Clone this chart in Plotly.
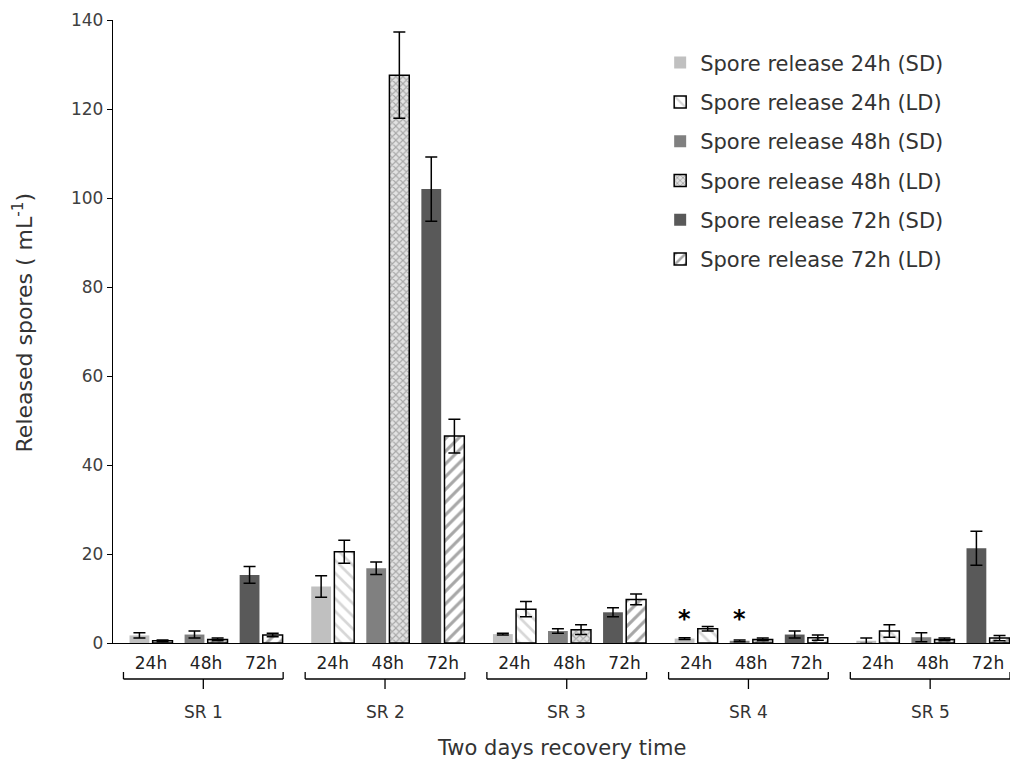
import plotly.graph_objects as go

groups = ["SR 1", "SR 2", "SR 3", "SR 4", "SR 5"]
times = ["24h", "48h", "72h"]

series_names = [
    "Spore release 24h (SD)", "Spore release 24h (LD)",
    "Spore release 48h (SD)", "Spore release 48h (LD)",
    "Spore release 72h (SD)", "Spore release 72h (LD)",
]
sd24 = [1.7, 12.7, 2.0, 1.0, 0.5]
sd24_err = [0.6, 2.4, 0.2, 0.2, 0.6]
ld24 = [0.5, 20.5, 7.6, 3.2, 2.7]
ld24_err = [0.2, 2.6, 1.7, 0.5, 1.4]
sd48 = [1.9, 16.8, 2.7, 0.5, 1.3]
sd48_err = [0.8, 1.4, 0.5, 0.2, 1.0]
ld48 = [0.8, 127.6, 3.0, 0.8, 0.8]
ld48_err = [0.3, 9.7, 1.1, 0.3, 0.3]
sd72 = [15.3, 102.0, 6.9, 1.9, 21.3]
sd72_err = [1.9, 7.2, 1.0, 0.8, 3.8]
ld72 = [1.8, 46.5, 9.8, 1.2, 1.1]
ld72_err = [0.4, 3.8, 1.2, 0.6, 0.6]

GROUP_STEP = 3.3
FONT = "DejaVu Sans"

def xpos(j):
    return [g * GROUP_STEP + j for g in range(len(groups))]

series = [
    (series_names[0], 0, "SD", sd24, sd24_err, dict(color="#c0c0c0")),
    (series_names[1], 0, "LD", ld24, ld24_err,
     dict(color="white", pattern=dict(shape="\\", fgcolor="#b0b0b0", bgcolor="white", size=9, solidity=0.3))),
    (series_names[2], 1, "SD", sd48, sd48_err, dict(color="#808080")),
    (series_names[3], 1, "LD", ld48, ld48_err,
     dict(color="#d0d0d0", pattern=dict(shape="x", fgcolor="#6e6e6e", bgcolor="#e2e2e2", size=5, solidity=0.4))),
    (series_names[4], 2, "SD", sd72, sd72_err, dict(color="#595959")),
    (series_names[5], 2, "LD", ld72, ld72_err,
     dict(color="white", pattern=dict(shape="/", fgcolor="#505050", bgcolor="white", size=9, solidity=0.35))),
]

fig = go.Figure()
for name, j, kind, vals, errs, marker in series:
    m = dict(marker)
    if kind == "LD":
        m["line"] = dict(color="black", width=1.5)
    else:
        m["line"] = dict(width=0)
    fig.add_trace(go.Bar(
        name=name, x=xpos(j), y=vals,
        width=0.36, offset=-0.39 if kind == "SD" else 0.03,
        marker=m, legendgroup=name,
        error_y=dict(type="data", array=errs, color="black", thickness=1.5, width=6),
    ))

tickvals = [g * GROUP_STEP + j for g in range(len(groups)) for j in range(len(times))]
ticktext = [t for g in groups for t in times]

shapes = []
annotations = []
y_top, y_bar, y_mid = -0.0465, -0.0578, -0.0738
for g, gname in enumerate(groups):
    x0 = g * GROUP_STEP - 0.5
    x1 = g * GROUP_STEP + 2.4
    xc = (x0 + x1) / 2
    line = dict(color="black", width=1.3)
    shapes.append(dict(type="line", xref="x", yref="paper", x0=x0, x1=x1, y0=y_bar, y1=y_bar, line=line))
    shapes.append(dict(type="line", xref="x", yref="paper", x0=x0, x1=x0, y0=y_top, y1=y_bar, line=line))
    shapes.append(dict(type="line", xref="x", yref="paper", x0=x1, x1=x1, y0=y_top, y1=y_bar, line=line))
    shapes.append(dict(type="line", xref="x", yref="paper", x0=xc, x1=xc, y0=y_bar, y1=y_mid, line=line))
    annotations.append(dict(text=gname, xref="x", yref="paper", x=xc, y=-0.111, showarrow=False,
                            yanchor="middle", font=dict(family=FONT, size=17, color="#333333")))

annotations.append(dict(text="Two days recovery time", xref="paper", yref="paper", x=0.5, y=-0.1685,
                        showarrow=False, yanchor="middle", font=dict(family=FONT, size=21, color="#333333")))
annotations.append(dict(text="Released spores ( mL<sup>-1</sup>)", xref="paper", yref="paper",
                        x=-0.1, y=0.515, textangle=-90, showarrow=False, xanchor="center", yanchor="middle",
                        font=dict(family=FONT, size=22, color="#333333")))
# significance markers on SR 4
for j in [0, 1]:
    annotations.append(dict(text="<b>*</b>", xref="x", yref="y", x=3 * GROUP_STEP + j - 0.21, y=5.5,
                            showarrow=False, yanchor="middle", font=dict(family=FONT, size=24, color="black")))

fig.update_layout(
    width=1013, height=760,
    margin=dict(l=113, r=3, t=20, b=117),
    paper_bgcolor="white", plot_bgcolor="white",
    barmode="overlay",
    font=dict(family=FONT, color="#333333"),
    showlegend=True,
    legend=dict(x=0.61, y=0.964, xanchor="left", yanchor="top", bgcolor="rgba(0,0,0,0)",
                font=dict(family=FONT, size=21, color="#333333"), tracegroupgap=9, itemwidth=30),
    xaxis=dict(range=[-0.69, 15.6], tickmode="array", tickvals=tickvals, ticktext=ticktext,
               showgrid=False, zeroline=False, showline=True, linecolor="black", linewidth=1.3,
               ticks="", ticklabelstandoff=4, tickfont=dict(family=FONT, size=17, color="#222222")),
    yaxis=dict(range=[0, 140], dtick=20, showgrid=False, zeroline=False, showline=True,
               linecolor="black", linewidth=1.3, ticks="outside", ticklen=5, tickcolor="black",
               tickfont=dict(family=FONT, size=17, color="#404040")),
    shapes=shapes, annotations=annotations,
)

fig.write_html("out.html")
